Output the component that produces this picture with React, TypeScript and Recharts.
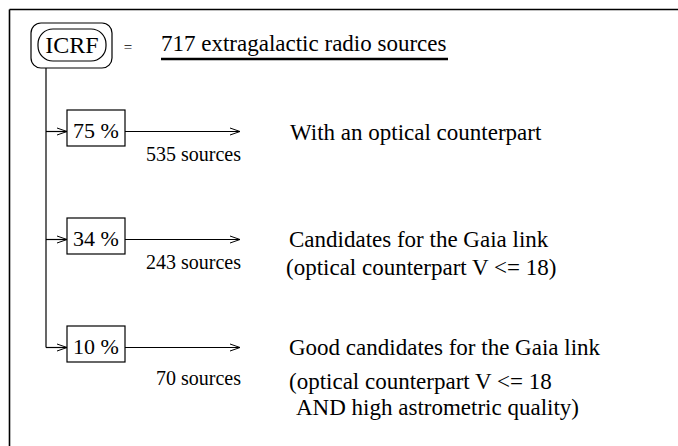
import React from "react";
import {
  ComposedChart,
  XAxis,
  YAxis,
  ReferenceLine,
  ReferenceArea,
  ReferenceDot,
} from "recharts";

// ---------------- data ----------------
const catalogName = "ICRF";
const totalSources = 717;
const totalLabel = "extragalactic radio sources";
const percents = [75, 34, 10];
const counts = [535, 243, 70];
const descriptions: string[][] = [
  ["With an optical counterpart"],
  ["Candidates for the Gaia link", "(optical counterpart V <= 18)"],
  [
    "Good candidates for the Gaia link",
    "(optical counterpart V <= 18",
    "AND high astrometric quality)",
  ],
];

// ---------------- layout (page units) ----------------
const W = 678;
const H = 446;
const FONT = "Liberation Serif, Times New Roman, serif";
const FRAME = 9.5;
const ROW_Y = [131.5, 239.5, 347.5];
const TRUNK_X = 46;
const BOX_X1 = 67;
const BOX_X2 = 125;
const BOX_UP = 21.5;
const BOX_DOWN = 14.5;
const ARROW_END = 240;
const COUNT_X = 241;
const COUNT_DY = [29.5, 29.5, 37];
const DESC_X = [[290], [289, 286], [289, 289, 296]];
const DESC_DY = [[8], [7.5, 35.5], [7.5, 41.5, 67.5]];

const txt = (s: string, size: number, anchor: "start" | "middle" | "end" = "start") =>
  (p: any) => (
    <text
      x={p.cx}
      y={p.cy}
      style={{ fontFamily: FONT, fontSize: size }}
      textAnchor={anchor}
      fill="#000"
    >
      {s}
    </text>
  );

const roundRect = (rx: number, sw: number) => (p: any) => (
  <rect
    x={p.x}
    y={p.y}
    width={p.width}
    height={p.height}
    rx={rx}
    ry={rx}
    fill="none"
    stroke="#000"
    strokeWidth={sw}
  />
);

const seg = (key: string, x1: number, y1: number, x2: number, y2: number, sw = 1.2) => (
  <ReferenceLine
    key={key}
    segment={[
      { x: x1, y: y1 },
      { x: x2, y: y2 },
    ]}
    stroke="#000"
    strokeWidth={sw}
    ifOverflow="visible"
  />
);

const arrowHead = (key: string, tip: number, y: number) => [
  seg(key + "a", tip - 10, y - 3.5, tip, y, 1),
  seg(key + "b", tip - 10, y + 3.5, tip, y, 1),
];

export default function App() {
  const els: React.ReactNode[] = [];
  // frame
  els.push(seg("ft", FRAME, FRAME, W, FRAME, 1.6));
  els.push(seg("fl", FRAME, FRAME, FRAME, H, 1.6));
  // trunk
  els.push(seg("trunk", TRUNK_X, 68, TRUNK_X, ROW_Y[ROW_Y.length - 1]));

  percents.forEach((pct, i) => {
    const y = ROW_Y[i];
    els.push(seg("in" + i, TRUNK_X, y, BOX_X1, y));
    els.push(...arrowHead("ah" + i, BOX_X1, y));
    els.push(
      <ReferenceArea
        key={"box" + i}
        x1={BOX_X1}
        x2={BOX_X2}
        y1={y - BOX_UP}
        y2={y + BOX_DOWN}
        shape={roundRect(0, 1.2)}
        ifOverflow="visible"
      />
    );
    els.push(
      <ReferenceDot
        key={"pt" + i}
        x={(BOX_X1 + BOX_X2) / 2}
        y={y + 6.5}
        r={0}
        shape={txt(`${pct} %`, 22, "middle")}
        ifOverflow="visible"
      />
    );
    els.push(seg("out" + i, BOX_X2, y, ARROW_END, y));
    els.push(...arrowHead("ah2" + i, ARROW_END, y));
    els.push(
      <ReferenceDot
        key={"cnt" + i}
        x={COUNT_X}
        y={y + COUNT_DY[i]}
        r={0}
        shape={txt(`${counts[i]} sources`, 20, "end")}
        ifOverflow="visible"
      />
    );
    descriptions[i].forEach((line, j) => {
      els.push(
        <ReferenceDot
          key={"d" + i + "_" + j}
          x={DESC_X[i][j]}
          y={y + DESC_DY[i][j]}
          r={0}
          shape={txt(line, 23)}
          ifOverflow="visible"
        />
      );
    });
  });

  return (
    <div style={{ position: "fixed", left: 0, top: 0, width: W, height: H, background: "#fff" }}>
      <ComposedChart
        width={W}
        height={H}
        data={[{ x: 100, y: 100 }]}
        margin={{ top: 0, right: 0, bottom: 0, left: 0 }}
      >
        <XAxis type="number" dataKey="x" domain={[0, W]} hide allowDataOverflow />
        <YAxis type="number" dataKey="y" domain={[0, H]} reversed hide allowDataOverflow />
        {/* ICRF header */}
        <ReferenceArea x1={31} x2={112} y1={23} y2={68} shape={roundRect(10, 1.2)} ifOverflow="visible" />
        <ReferenceArea x1={38} x2={106} y1={29} y2={61} shape={roundRect(15, 1.2)} ifOverflow="visible" />
        <ReferenceDot x={72} y={52.5} r={0} shape={txt(catalogName, 24, "middle")} ifOverflow="visible" />
        <ReferenceDot x={128} y={52} r={0} shape={txt("=", 15, "middle")} ifOverflow="visible" />
        <ReferenceDot
          x={161}
          y={51}
          r={0}
          shape={txt(`${totalSources} ${totalLabel}`, 23)}
          ifOverflow="visible"
        />
        {seg("ul", 161, 59, 448, 59, 2.6)}
        {els}
      </ComposedChart>
    </div>
  );
}
